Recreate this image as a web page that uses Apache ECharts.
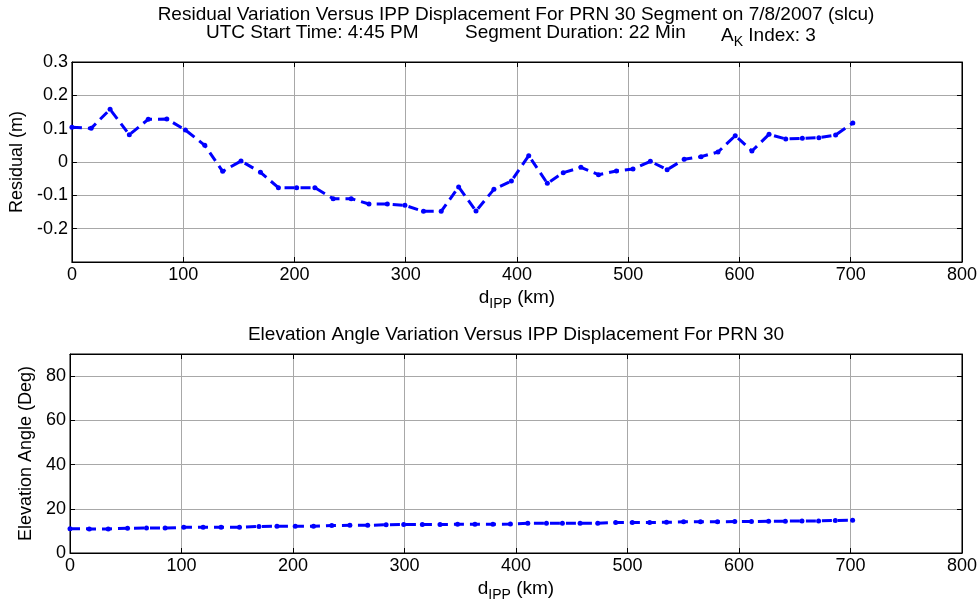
<!DOCTYPE html>
<html>
<head>
<meta charset="utf-8">
<script src="https://cdn.jsdelivr.net/npm/echarts@6/dist/echarts.min.js"></script>
<style>
  html, body { margin: 0; padding: 0; background: #fff; }
  #chart { width: 980px; height: 604px; }
</style>
</head>
<body>
<div id="chart"></div>
<script>
// IPP displacement (km) of each sample in the PRN 30 segment
const dIpp = [0, 17.3, 34.3, 51.6, 68.6, 85.3, 102, 119.4, 135.5, 152, 169.5, 185.6, 202, 218.4, 234.8,
  251, 267, 283.5, 299.3, 316, 331.9, 347.6, 363.2, 379.3, 395, 410.6, 427.3, 441.6, 457.5, 473.3,
  489.4, 504.3, 519.9, 535, 550.3, 565.5, 580.7, 596.2, 611.2, 626.6, 641.6, 656.5, 671.4, 686.4, 701.9];

// Residual (m) at each sample
const residual = [0.104, 0.101, 0.158, 0.082, 0.128, 0.129, 0.096, 0.05, -0.028, 0.003, -0.031, -0.077,
  -0.077, -0.077, -0.11, -0.11, -0.126, -0.126, -0.13, -0.148, -0.148, -0.075, -0.147, -0.082, -0.057,
  0.019, -0.064, -0.032, -0.016, -0.038, -0.027, -0.021, 0.002, -0.023, 0.008, 0.016, 0.03, 0.079,
  0.033, 0.083, 0.069, 0.071, 0.073, 0.081, 0.117];

// Elevation angle (deg) at each sample
const elevation = [11.0, 10.9, 10.9, 11.2, 11.3, 11.3, 11.6, 11.7, 11.7, 11.7, 12.0, 12.1, 12.1, 12.1,
  12.4, 12.5, 12.5, 12.8, 12.9, 12.9, 12.9, 13.0, 13.0, 13.0, 13.1, 13.4, 13.4, 13.4, 13.5, 13.5,
  13.8, 13.8, 13.8, 13.9, 14.1, 14.1, 14.1, 14.2, 14.2, 14.4, 14.4, 14.5, 14.5, 14.7, 14.8];

// Axis ranges and tick labels
const xTicks = [0, 100, 200, 300, 400, 500, 600, 700, 800];
const residualTicks = ['-0.2', '-0.1', '0', '0.1', '0.2', '0.3'];
const elevationTicks = ['0', '20', '40', '60', '80'];
const residualRange = [-0.3, 0.3];
const elevationRange = [0, 90];

const FONT = '"Liberation Sans", Arial, sans-serif';
const BLUE = '#0000ff';
const GRID_GRAY = '#a8a8a8';

const chart = echarts.init(document.getElementById('chart'));

const grids = [
  { left: 70, right: 17, top: 62, height: 200, show: true, borderColor: '#000', borderWidth: 1 },
  { left: 70, right: 17, top: 354, height: 199, show: true, borderColor: '#000', borderWidth: 1 }
];

const tickStyle = { show: true, inside: true, length: 5, lineStyle: { color: '#000', width: 1 } };
const lineBlack = { show: true, onZero: false, lineStyle: { color: '#000', width: 1 } };

function mainX(gridIndex) {
  return {
    type: 'value', gridIndex, min: xTicks[0], max: xTicks[xTicks.length - 1], interval: 100,
    name: '{d|d}{s|IPP}{d| (km)}', nameLocation: 'middle', nameGap: 23,
    nameTextStyle: {
      rich: {
        d: { fontFamily: FONT, fontSize: 19, color: '#000' },
        s: { fontFamily: FONT, fontSize: 14, color: '#000', padding: [12, 0, 0, 0] }
      }
    },
    axisLine: lineBlack,
    axisTick: tickStyle,
    axisLabel: { fontFamily: FONT, fontSize: 18, color: '#000', margin: 4 },
    splitLine: { show: true, lineStyle: { color: GRID_GRAY, width: 1 } }
  };
}

function boxX(gridIndex) {
  return {
    type: 'value', gridIndex, min: xTicks[0], max: xTicks[xTicks.length - 1], interval: 100,
    position: 'top',
    axisLine: lineBlack, axisTick: tickStyle,
    axisLabel: { show: false }, splitLine: { show: false }
  };
}

function mainY(gridIndex, range, interval, labels, name, gap) {
  return {
    type: 'value', gridIndex, min: range[0], max: range[1], interval,
    name, nameLocation: 'middle', nameGap: gap,
    nameTextStyle: { fontFamily: FONT, fontSize: 18, color: '#000' },
    axisLine: lineBlack,
    axisTick: tickStyle,
    axisLabel: {
      fontFamily: FONT, fontSize: 18, color: '#000', margin: 4,
      formatter: v => {
        const s = String(Math.round(v * 10) / 10);
        return labels.indexOf(s) >= 0 ? s : '';
      }
    },
    splitLine: { show: true, lineStyle: { color: GRID_GRAY, width: 1 } }
  };
}

function boxY(gridIndex, range, interval) {
  return {
    type: 'value', gridIndex, min: range[0], max: range[1], interval, position: 'right',
    axisLine: lineBlack, axisTick: tickStyle,
    axisLabel: { show: false }, splitLine: { show: false }
  };
}

function lineSeries(xi, yi, ys) {
  return {
    type: 'line', xAxisIndex: xi, yAxisIndex: yi,
    data: dIpp.map((x, i) => [x, ys[i]]),
    symbol: 'circle', symbolSize: 5, showSymbol: true,
    itemStyle: { color: BLUE },
    lineStyle: { color: BLUE, width: 3, type: [10, 6] },
    animation: false, silent: true
  };
}

const titleStyle = { fontFamily: FONT, fontSize: 19, fill: '#000' };

chart.setOption({
  animation: false,
  grid: grids,
  xAxis: [mainX(0), boxX(0), mainX(1), boxX(1)],
  yAxis: [
    mainY(0, residualRange, 0.1, residualTicks, 'Residual (m)', 43), boxY(0, residualRange, 0.1),
    mainY(1, elevationRange, 20, elevationTicks, 'Elevation Angle (Deg)', 30), boxY(1, elevationRange, 20)
  ],
  series: [lineSeries(0, 0, residual), lineSeries(2, 2, elevation)],
  graphic: [
    { type: 'text', x: 516, y: 5,
      style: Object.assign({ text: 'Residual Variation Versus IPP Displacement For PRN 30 Segment on 7/8/2007 (slcu)', align: 'center' }, titleStyle) },
    { type: 'text', x: 206, y: 23,
      style: Object.assign({ text: 'UTC Start Time: 4:45 PM' }, titleStyle) },
    { type: 'text', x: 465, y: 23,
      style: Object.assign({ text: 'Segment Duration: 22 Min' }, titleStyle) },
    { type: 'text', x: 721, y: 23,
      style: {
        text: '{a|A}{k|K}{a| Index: 3}',
        rich: {
          a: { fontFamily: FONT, fontSize: 19, fill: '#000' },
          k: { fontFamily: FONT, fontSize: 14, fill: '#000', padding: [12, 0, 0, 0] }
        }
      } },
    { type: 'text', x: 516, y: 325,
      style: Object.assign({ text: 'Elevation Angle Variation Versus IPP Displacement For PRN 30', align: 'center' }, titleStyle) }
  ]
});
</script>
</body>
</html>
